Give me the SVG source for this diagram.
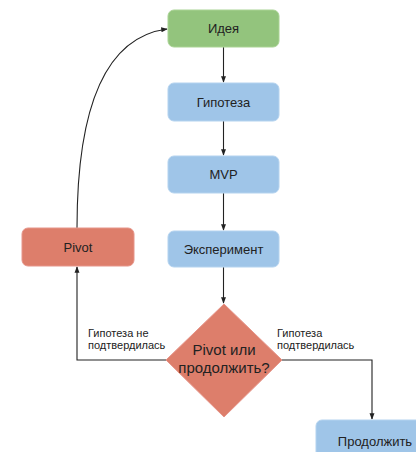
<svg xmlns="http://www.w3.org/2000/svg" width="416" height="452" viewBox="0 0 416 452">
<defs>
<style>
.t{font-family:"Liberation Sans",Arial,sans-serif;font-size:13px;fill:#222;text-anchor:middle}
.d{font-family:"Liberation Sans",Arial,sans-serif;font-size:15px;fill:#222;text-anchor:middle}
.l{font-family:"Liberation Sans",Arial,sans-serif;font-size:11px;fill:#222}
.c{fill:none;stroke:#222;stroke-width:1.1}
.g{fill:#93c47d;stroke:#a9d394;stroke-width:1}
.b{fill:#9fc5e8;stroke:#b4d3ef;stroke-width:1}
.r{fill:#dd7e6b;stroke:#e6958a;stroke-width:1}
</style>
<marker id="a" viewBox="0 0 8 8" refX="7" refY="4" markerWidth="6" markerHeight="6" orient="auto"><path d="M0,1 L8,4 L0,7 z" fill="#222"/></marker>
</defs>
<g id="connectors">
<path class="c" d="M223.5,47 V82" marker-end="url(#a)"/>
<path class="c" d="M223.5,121 V155" marker-end="url(#a)"/>
<path class="c" d="M223.5,193 V230" marker-end="url(#a)"/>
<path class="c" d="M223.5,267 V303" marker-end="url(#a)"/>
<path class="c" d="M166,360 H77 V267" marker-end="url(#a)"/>
<path class="c" d="M282,360 H372 V419" marker-end="url(#a)"/>
<path class="c" d="M77,228 C77,120 100,38 167,29" marker-end="url(#a)"/>
<text class="l" x="88" y="337">Гипотеза не</text>
<text class="l" x="88" y="349">подтвердилась</text>
<text class="l" x="277" y="337">Гипотеза</text>
<text class="l" x="277" y="349">подтвердилась</text>
</g>
<g id="idea"><rect class="g" x="168" y="10" width="111" height="37" rx="6"/><text class="t" x="223.5" y="33">Идея</text></g>
<g id="hypothesis"><rect class="b" x="168" y="83" width="111" height="38" rx="6"/><text class="t" x="223.5" y="106.5">Гипотеза</text></g>
<g id="mvp"><rect class="b" x="168" y="156" width="111" height="37" rx="6"/><text class="t" x="223.5" y="179">MVP</text></g>
<g id="experiment"><rect class="b" x="168" y="231" width="111" height="36" rx="6"/><text class="t" x="223.5" y="253.5">Эксперимент</text></g>
<g id="pivot"><rect class="r" x="22" y="228" width="112" height="38" rx="6"/><text class="t" x="78" y="251.5">Pivot</text></g>
<g id="decision"><path class="r" d="M224,304 L282,360 L224,417 L166,360 z"/><text class="d" x="224" y="355">Pivot или</text><text class="d" x="224" y="373">продолжить?</text></g>
<g id="continue"><rect class="b" x="316" y="420" width="110" height="40" rx="6"/><text class="t" x="375" y="446">Продолжить</text></g>
</svg>
